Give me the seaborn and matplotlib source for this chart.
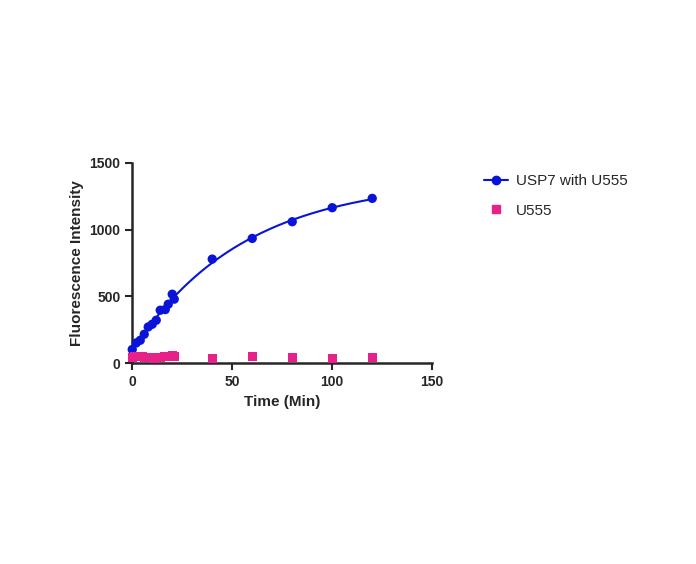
import numpy as np
import seaborn as sns
import matplotlib.pyplot as plt
from matplotlib.lines import Line2D

# data
t_usp7 = [0, 2, 4, 6, 8, 10, 12, 14, 16.5, 18, 20, 21, 40, 60, 80, 100, 120]
f_usp7 = [103, 152, 172, 217, 272, 292, 322, 397, 402, 442, 517, 480, 780, 935, 1060, 1165, 1235]
t_u555 = [0, 1, 2, 3, 4, 5, 6, 7, 8, 9, 10, 11, 12, 13, 14, 15, 16, 17, 18, 19, 20, 21, 40, 60, 80, 100, 120]
f_u555 = [45, 48, 50, 46, 52, 48, 44, 46, 42, 40, 42, 38, 40, 42, 44, 46, 48, 50, 52, 50, 55, 48, 38, 50, 40, 35, 45]

sns.set_style("ticks")
plt.rcParams['font.family'] = ['Liberation Sans', 'DejaVu Sans']

# one-phase association fit: y = y0 + A*(1-exp(-k t))
x = np.array(t_usp7, float)
y = np.array(f_usp7, float)
best = None
for k in np.linspace(0.001, 0.1, 2000):
    M = np.column_stack([np.ones_like(x), 1 - np.exp(-k * x)])
    coef, *_ = np.linalg.lstsq(M, y, rcond=None)
    err = np.sum((M @ coef - y) ** 2)
    if best is None or err < best[0]:
        best = (err, k, coef)
_, k, (y0, A) = best
tf = np.linspace(0, 120, 300)
ff = y0 + A * (1 - np.exp(-k * tf))

fig = plt.figure(figsize=(6.96, 5.64), dpi=100)
ax = fig.add_axes([0.19, 0.356, 0.431, 0.355])

blue = '#0a14d8'
pink = '#e8208a'
sns.lineplot(x=tf, y=ff, ax=ax, color=blue, lw=1.5)
sns.scatterplot(x=t_usp7, y=f_usp7, ax=ax, color=blue, s=45, edgecolor='none', zorder=3, clip_on=False)
sns.scatterplot(x=t_u555, y=f_u555, ax=ax, color=pink, marker='s', s=40, edgecolor='none', zorder=3, clip_on=False)

ax.set_xlim(0, 150)
ax.set_ylim(0, 1500)
ax.set_xticks([0, 50, 100, 150])
ax.set_yticks([0, 500, 1000, 1500])
ax.set_xlabel('Time (Min)', fontsize=11, fontweight='bold')
ax.set_ylabel('Fluorescence Intensity', fontsize=11, fontweight='bold')
for lab in ax.get_xticklabels() + ax.get_yticklabels():
    lab.set_fontweight('bold')
    lab.set_fontsize(10)
ax.tick_params(width=1.5, length=5)
for s in ['left', 'bottom']:
    ax.spines[s].set_linewidth(1.8)
sns.despine(ax=ax)

handles = [Line2D([], [], color=blue, marker='o', lw=1.5, markersize=6),
           Line2D([], [], color=pink, marker='s', lw=0, markersize=6)]
fig.legend(handles, ['USP7 with U555', 'U555'], loc='upper left',
           bbox_to_anchor=(0.675, 0.715), frameon=False, fontsize=11,
           handlelength=1.6, handletextpad=0.5, labelspacing=1.0)

fig.savefig('out.png', dpi=100)
